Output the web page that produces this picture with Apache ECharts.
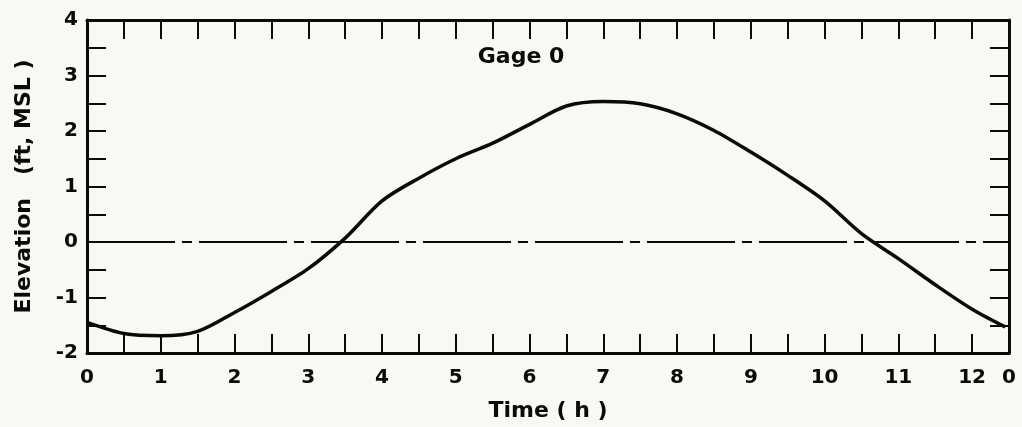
<!DOCTYPE html>
<html>
<head>
<meta charset="utf-8">
<script src="https://cdn.jsdelivr.net/npm/echarts@6/dist/echarts.min.js"></script>
<style>
html,body{margin:0;padding:0;background:#f8f8f6;}
#c{width:1022px;height:427px;}
</style>
</head>
<body>
<div id="c"></div>
<script>
const timeH = [0, 0.5, 1.0, 1.5, 2.0, 2.5, 3.0, 3.5, 4.0, 4.5, 5.0, 5.5, 6.0, 6.5, 7.0, 7.5, 8.0, 8.5, 9.0, 9.5, 10.0, 10.5, 11.0, 11.5, 12.0, 12.45];
const elevation = [-1.45, -1.65, -1.69, -1.61, -1.27, -0.89, -0.48, 0.07, 0.74, 1.15, 1.5, 1.78, 2.12, 2.45, 2.53, 2.49, 2.31, 2.01, 1.62, 1.2, 0.74, 0.15, -0.3, -0.77, -1.21, -1.53];
const xTickLabels = ['0','1','2','3','4','5','6','7','8','9','10','11','12'];
const xEndLabel = '0';
const yTickLabels = ['-2','-1','0','1','2','3','4'];
const titleText = 'Gage 0';
const xName = 'Time ( h )';
const yName = 'Elevation   (ft, MSL )';

const ink = '#0a0a0a';
const font = 'DejaVu Sans';
const chart = echarts.init(document.getElementById('c'));
const tickCommon = {show: true, inside: true, length: 19, lineStyle: {color: ink, width: 2}};
const lineCommon = {show: true, onZero: false, lineStyle: {color: ink, width: 3}};
const lblStyle = {color: ink, fontSize: 20, fontFamily: font, fontWeight: 'bold'};
chart.setOption({
  backgroundColor: '#f8f8f6',
  animation: false,
  grid: {left: 87, right: 13, top: 20, bottom: 74},
  graphic: [{
    type: 'text', x: 521, y: 57,
    style: {text: titleText, font: 'bold 22px "DejaVu Sans"', fill: ink, textAlign: 'center', textVerticalAlign: 'middle'}
  }],
  xAxis: [{
    type: 'value', min: 0, max: 12.5, interval: 0.5, position: 'bottom',
    axisLine: lineCommon, axisTick: tickCommon, splitLine: {show: false},
    axisLabel: Object.assign({}, lblStyle, {
      margin: 15, showMaxLabel: true,
      formatter: v => {
        if (Math.abs(v - 12.5) < 1e-6) return xEndLabel;
        return Number.isInteger(v) ? xTickLabels[v] : '';
      }
    }),
    name: xName, nameLocation: 'middle', nameGap: 47,
    nameTextStyle: Object.assign({}, lblStyle, {fontSize: 22})
  }, {
    type: 'value', min: 0, max: 12.5, interval: 0.5, position: 'top',
    axisLine: lineCommon, axisTick: tickCommon, splitLine: {show: false},
    axisLabel: {show: false}
  }],
  yAxis: [{
    type: 'value', min: -2, max: 4, interval: 0.5, position: 'left',
    axisLine: lineCommon, axisTick: tickCommon, splitLine: {show: false},
    axisLabel: Object.assign({}, lblStyle, {
      margin: 9,
      formatter: v => Number.isInteger(v) ? yTickLabels[v + 2] : ''
    }),
    name: yName, nameLocation: 'middle', nameGap: 52, nameRotate: 90,
    nameTextStyle: Object.assign({}, lblStyle, {fontSize: 22})
  }, {
    type: 'value', min: -2, max: 4, interval: 0.5, position: 'right',
    axisLine: lineCommon, axisTick: tickCommon, splitLine: {show: false},
    axisLabel: {show: false}
  }],
  series: [{
    type: 'line',
    data: timeH.map((t, i) => [t, elevation[i]]),
    smooth: 0.3, showSymbol: false,
    lineStyle: {color: ink, width: 3.5},
    markLine: {
      silent: true, symbol: 'none', label: {show: false},
      lineStyle: {color: ink, width: 2, type: [88, 7, 10, 7]},
      data: [{yAxis: 0}]
    }
  }]
});
</script>
</body>
</html>
